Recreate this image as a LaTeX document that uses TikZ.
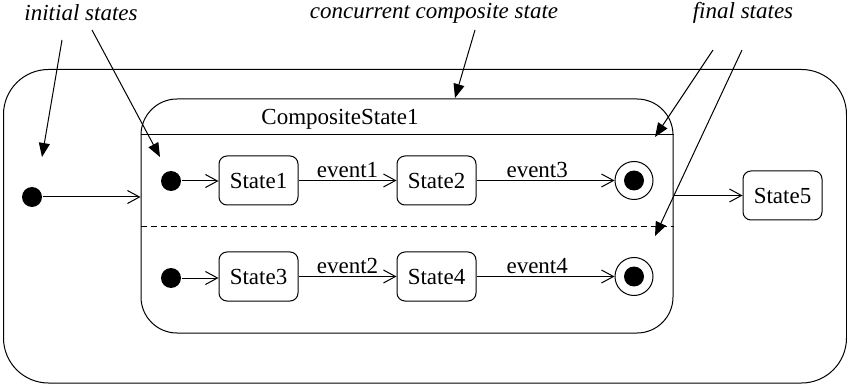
\documentclass[tikz,border=0pt]{standalone}
\usepackage{fontspec}
\setmainfont{Liberation Serif}
\usetikzlibrary{arrows.meta}
\begin{document}
\begin{tikzpicture}[x=1pt,y=-1pt, line width=1pt,
  every node/.style={font=\fontsize{23}{27}\selectfont},
  statebox/.style={draw, rounded corners=8pt, minimum width=79pt, minimum height=49pt, inner sep=0pt},
  initdot/.style={circle, fill, inner sep=0pt, minimum size=20pt},
  finalring/.style={circle, draw, inner sep=0pt, minimum size=38pt},
  trans/.style={-{Straight Barb[length=12pt,width=13pt]}},
  note/.style={-{Triangle[length=14pt,width=11pt]}},
  notetext/.style={font=\fontsize{23}{27}\selectfont\itshape, inner sep=0pt},
  evlab/.style={above, inner sep=2pt}]
\useasboundingbox (0,0) rectangle (847,385);

% enclosing state and the concurrent composite state
\node[draw, rounded corners=45pt, minimum width=843pt, minimum height=313.5pt, inner sep=0pt] (outer) at (425,226.25) {};
\node[draw, rounded corners=36pt, minimum width=532pt, minimum height=234pt, inner sep=0pt] (comp) at (407,216) {};
\draw ([yshift=-36pt]comp.north west) -- ([yshift=-36pt]comp.north east);
\draw[dash pattern=on 6pt off 4pt] ([yshift=-128pt]comp.north west) -- ([yshift=-128pt]comp.north east);
\node (ctitle) at (340,119) {CompositeState1};

% states
\node[initdot] (i0) at (32,197) {};
\node[initdot] (i1) at (171,181) {};
\node[initdot] (i2) at (171,278) {};
\node[statebox] (s1) at (258.5,180.5) {State1};
\node[statebox] (s2) at (436.5,180.5) {State2};
\node[statebox] (s3) at (258.5,276.5) {State3};
\node[statebox] (s4) at (436.5,276.5) {State4};
\node[finalring] (f1) at (634,180.5) {};
\node[finalring] (f2) at (634,276.5) {};
\fill (f1.center) circle (10);
\fill (f2.center) circle (10);
\node[statebox] (s5) at (782.5,195.5) {State5};

% transitions
\draw[trans] (i0) -- (i0 -| comp.west);
\draw[trans] (i1) -- (i1 -| s1.west);
\draw[trans] (s1) -- node[evlab] {event1} (s2);
\draw[trans] (s2) -- node[evlab, pos=0.44] {event3} (f1);
\draw[trans] (i2) -- (i2 -| s3.west);
\draw[trans] (s3) -- node[evlab] {event2} (s4);
\draw[trans] (s4) -- node[evlab, pos=0.44] {event4} (f2);
\draw[trans] (comp.east |- s5) -- (s5);

% annotations
\node[notetext] (ninit) at (81,13) {initial states};
\node[notetext] (ncomp) at (434,13) {concurrent composite state};
\node[notetext] (nfinal) at (743,13) {final states};
\coordinate (a1s) at (62,40);
\coordinate (a1e) at (42,157);
\coordinate (a2s) at (92,30);
\coordinate (a2e) at (160,157);
\coordinate (a3s) at (475,30);
\coordinate (a3e) at (455,98);
\coordinate (a4s) at (713,50);
\coordinate (a4e) at (655,137);
\coordinate (a5s) at (742,50);
\coordinate (a5e) at (655,236);
\draw[note] (a1s) -- (a1e);
\draw[note] (a2s) -- (a2e);
\draw[note] (a3s) -- (a3e);
\draw[note] (a4s) -- (a4e);
\draw[note] (a5s) -- (a5e);
\end{tikzpicture}
\end{document}
